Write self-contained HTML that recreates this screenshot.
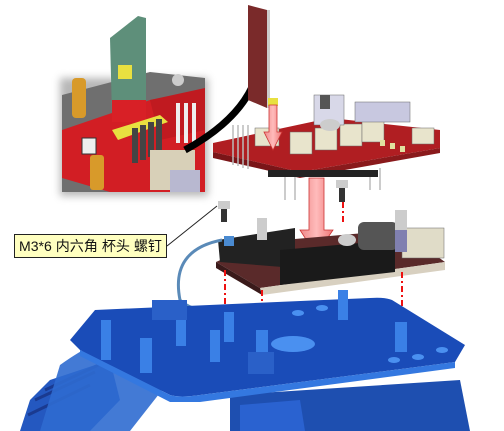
<!DOCTYPE html>
<html><head><meta charset="utf-8"><style>
html,body{margin:0;padding:0;background:#fff;width:504px;height:431px;overflow:hidden}
svg{display:block}
.lbl{font-family:"Liberation Sans","Noto Sans CJK SC",sans-serif;font-size:14px}
</style></head><body>
<svg width="504" height="431" viewBox="0 0 504 431">
<defs>
<filter id="sh" x="-20%" y="-20%" width="140%" height="140%"><feGaussianBlur stdDeviation="4"/></filter>
<linearGradient id="arr" x1="0" x2="1"><stop offset="0" stop-color="#e88"/><stop offset="0.5" stop-color="#fbb"/><stop offset="1" stop-color="#e77"/></linearGradient>
</defs>
<g>
<rect x="60" y="78" width="148" height="118" fill="#888" filter="url(#sh)" opacity="0.6"/>
<path d="M62 95 L150 72 L205 78 L205 192 L62 192 Z" fill="#6f6f6f"/>
<path d="M62 130 L150 100 L205 90 L205 192 L110 192 L62 178 Z" fill="#d21e24"/>
<path d="M150 100 L205 88 L205 130 L160 140 Z" fill="#c01a20"/>
<rect x="72" y="78" width="14" height="40" rx="4" fill="#d89a2a"/>
<rect x="90" y="155" width="14" height="35" rx="3" fill="#d89a2a"/>
<path d="M110 38 L138 16 L146 18 L146 105 L112 115 Z" fill="#5e8f7a"/>
<rect x="118" y="65" width="14" height="14" fill="#e8e040"/>
<rect x="112" y="100" width="34" height="22" fill="#d82026"/>
<path d="M112 130 L160 115 L168 122 L118 140 Z" fill="#e8e040"/>
<g fill="#444"><rect x="132" y="128" width="6" height="35"/><rect x="140" y="125" width="6" height="35"/><rect x="148" y="122" width="6" height="35"/><rect x="156" y="119" width="6" height="35"/></g>
<rect x="150" y="150" width="45" height="40" fill="#d8d0b8"/>
<rect x="170" y="170" width="30" height="22" fill="#b8b8d0"/>
<rect x="176" y="103" width="4" height="40" fill="#eee"/><rect x="184" y="103" width="4" height="40" fill="#eee"/><rect x="192" y="103" width="4" height="40" fill="#eee"/>
<circle cx="178" cy="80" r="6" fill="#ccc"/>
<rect x="82" y="138" width="14" height="16" fill="#eee" stroke="#333"/>
</g>
<path d="M185 150 Q240 120 255 80" stroke="#000" stroke-width="7" fill="none"/>
<path d="M248 5 L267 10 L267 108 L248 100 Z" fill="#7a2a2a"/>
<rect x="267" y="10" width="3" height="98" fill="#ccc"/>
<rect x="268" y="98" width="10" height="8" fill="#e8e040"/>
<g>
<path d="M213 143 L330 118 L440 130 L440 148 L300 172 L213 152 Z" fill="#b01e22"/>
<path d="M213 152 L300 172 L300 178 L213 158 Z" fill="#7a1518"/>
<path d="M300 172 L440 148 L440 153 L300 178 Z" fill="#8a1a1c"/>
<g fill="#e8e4cc" stroke="#666" stroke-width="0.5">
<rect x="290" y="132" width="22" height="22"/><rect x="315" y="128" width="22" height="22"/><rect x="340" y="124" width="22" height="22"/><rect x="362" y="120" width="22" height="22"/><rect x="412" y="128" width="22" height="16"/>
<rect x="255" y="128" width="24" height="18"/>
</g>
<rect x="314" y="95" width="30" height="30" fill="#d8d8e8" stroke="#666" stroke-width="0.5"/>
<rect x="320" y="95" width="10" height="14" fill="#555"/>
<rect x="355" y="102" width="55" height="20" fill="#c8c8e0" stroke="#666" stroke-width="0.5"/>
<ellipse cx="330" cy="125" rx="10" ry="6" fill="#ccc"/>
<g fill="#e0e0a0"><rect x="380" y="140" width="5" height="6"/><rect x="390" y="143" width="5" height="6"/><rect x="400" y="146" width="5" height="6"/></g>
<g stroke="#bbb" stroke-width="1.5"><line x1="233" y1="125" x2="233" y2="165"/><line x1="238" y1="125" x2="238" y2="166"/><line x1="243" y1="125" x2="243" y2="168"/><line x1="248" y1="125" x2="248" y2="169"/>
<line x1="285" y1="172" x2="285" y2="200"/><line x1="295" y1="175" x2="295" y2="200"/><line x1="370" y1="170" x2="370" y2="190"/><line x1="380" y1="168" x2="380" y2="190"/></g>
<rect x="268" y="170" width="110" height="7" fill="#222"/>
</g>
<g><rect x="336" y="180" width="12" height="8" fill="#ccc"/><rect x="339" y="188" width="6" height="14" fill="#333"/></g>
<g><rect x="218" y="201" width="12" height="8" fill="#ccc"/><rect x="221" y="209" width="6" height="13" fill="#333"/></g>
<path d="M269 105 L277 105 L277 132 L282 132 L273 150 L264 132 L269 132 Z" fill="url(#arr)" stroke="#c33" stroke-width="0.8"/>
<path d="M309 178 L324 178 L324 230 L333 230 L316 255 L300 230 L309 230 Z" fill="url(#arr)" stroke="#c33" stroke-width="0.8"/>
<g>
<path d="M216 262 L260 242 L400 230 L445 262 L260 288 Z" fill="#5a2a2a"/>
<path d="M260 288 L445 262 L445 270 L262 295 Z" fill="#d8d0c0"/>
<path d="M216 262 L260 288 L262 295 L216 268 Z" fill="#3a1a1a"/>
<path d="M218 240 L295 228 L295 268 L220 262 Z" fill="#222"/>
<path d="M280 250 L395 240 L395 272 L280 285 Z" fill="#1a1a1a"/>
<rect x="358" y="222" width="40" height="28" rx="6" fill="#555"/>
<rect x="402" y="228" width="42" height="30" fill="#e0dcc8" stroke="#666" stroke-width="0.5"/>
<rect x="395" y="222" width="12" height="30" fill="#8080b0"/>
<ellipse cx="347" cy="240" rx="9" ry="6" fill="#ccc"/>
<rect x="224" y="236" width="10" height="10" fill="#4a8ad0"/>
<rect x="257" y="218" width="10" height="22" fill="#ccc"/>
<rect x="395" y="210" width="12" height="20" fill="#ccc"/>
</g>
<g stroke="#e11" stroke-width="2" stroke-dasharray="6,3,2,3">
<line x1="225" y1="270" x2="225" y2="305"/><line x1="262" y1="290" x2="262" y2="322"/><line x1="343" y1="202" x2="343" y2="225"/><line x1="402" y1="272" x2="402" y2="315"/>
</g>
<path d="M222 240 Q170 250 180 300 Q190 310 215 313" stroke="#5a8ab8" stroke-width="3" fill="none"/>
<line x1="167" y1="246" x2="217" y2="206" stroke="#222" stroke-width="1"/>
<g>
<path d="M20 431 L30 400 L50 380 L110 360 L120 400 L90 431 Z" fill="#2458c0"/>
<g stroke="#1a3a90" stroke-width="3"><line x1="28" y1="415" x2="90" y2="385"/><line x1="35" y1="400" x2="95" y2="372"/><line x1="45" y1="390" x2="105" y2="362"/></g>
<path d="M60 365 Q150 300 170 380 L130 431 L40 431 Z" fill="#2f6cd0" opacity="0.9"/>
<path d="M230 395 L460 380 L470 431 L230 431 Z" fill="#1e4fb0"/>
<path d="M70 340 L95 310 L370 298 Q385 297 392 300 L465 345 L455 362 L200 395 Q180 398 170 395 L80 350 Z" fill="#1a4cb8"/>
<path d="M80 350 L170 395 Q180 398 200 395 L455 362 L455 368 L200 402 L170 402 L80 356 Z" fill="#3478e0"/>
<ellipse cx="293" cy="344" rx="22" ry="8" fill="#4a90f0"/>
<g fill="#3a80e6"><rect x="101" y="320" width="10" height="40"/><rect x="140" y="338" width="12" height="35"/><rect x="176" y="310" width="10" height="36"/><rect x="210" y="330" width="10" height="32"/><rect x="224" y="312" width="10" height="30"/><rect x="256" y="330" width="12" height="26"/><rect x="338" y="290" width="10" height="30"/><rect x="395" y="322" width="12" height="30"/></g>
<rect x="152" y="300" width="35" height="20" fill="#2a60c8"/>
<rect x="248" y="352" width="26" height="22" fill="#2a60c8"/>
<g fill="#4a90f0"><ellipse cx="298" cy="313" rx="6" ry="3"/><ellipse cx="322" cy="308" rx="6" ry="3"/><ellipse cx="394" cy="360" rx="6" ry="3"/><ellipse cx="418" cy="357" rx="6" ry="3"/><ellipse cx="442" cy="350" rx="6" ry="3"/></g>
<path d="M240 405 L300 400 L305 431 L240 431 Z" fill="#2a62d0"/>
</g>
<g>
<rect x="14.5" y="234.5" width="152" height="23" fill="#ffffc0" stroke="#222"/>
<text class="lbl" x="19" y="251" fill="#111" textLength="143" lengthAdjust="spacingAndGlyphs">M3*6 内六角 杯头 螺钉</text>
</g>
</svg>
</body></html>
